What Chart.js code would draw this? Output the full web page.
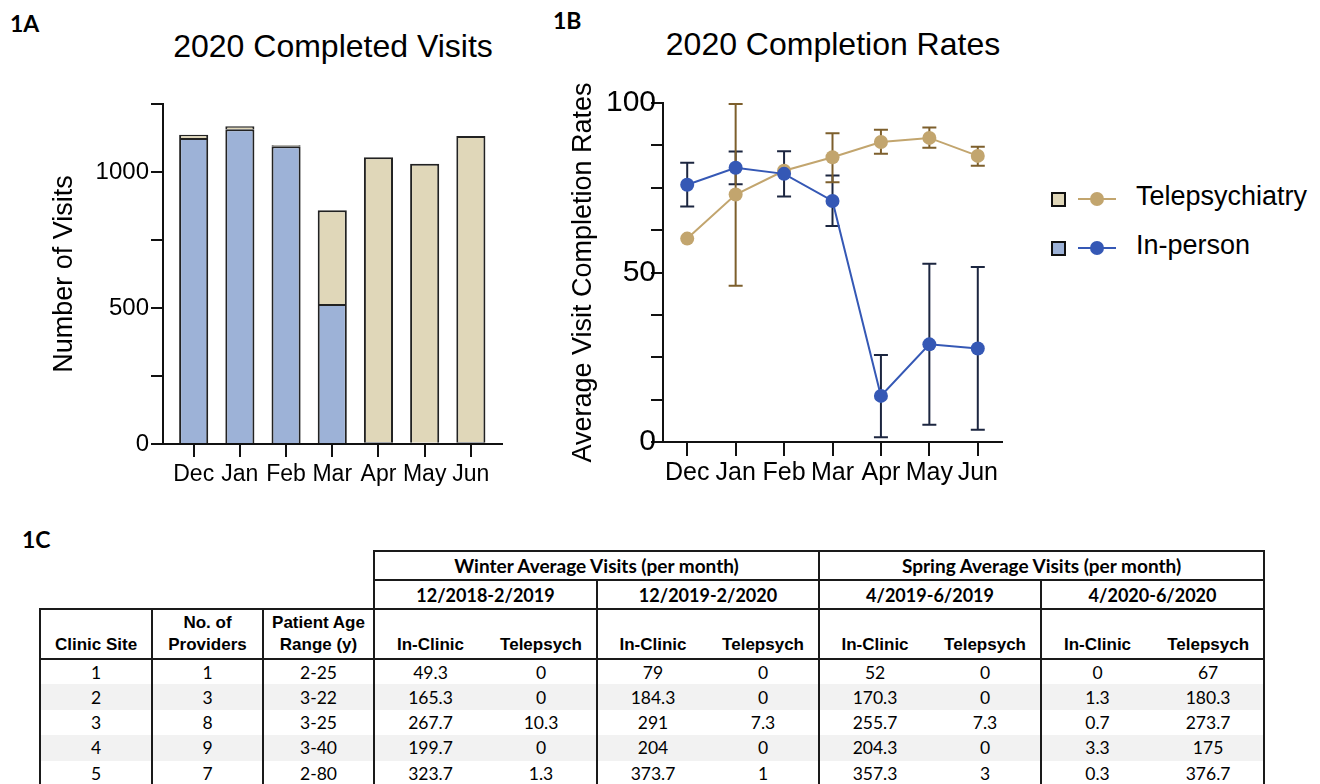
<!DOCTYPE html>
<html>
<head>
<meta charset="utf-8">
<script src="https://cdn.jsdelivr.net/npm/chart.js@4.4.1/dist/chart.umd.min.js"></script>
<style>
  body { margin: 0; background: #fff; }
  #page { position: relative; width: 1320px; height: 784px; overflow: hidden; font-family: "Liberation Sans", Arial, sans-serif; color: #000; }
  .panel { position: absolute; font-family: Lato, sans-serif; font-weight: 700; font-size: 23px; line-height: 22px; }
  .title { position: absolute; font-size: 32px; line-height: 32px; text-align: center; white-space: nowrap; }
  .box { position: absolute; }
  .legend-sq { position: absolute; width: 11px; height: 11px; border: 2px solid #111; }
  .legend-ln { position: absolute; height: 2px; }
  .legend-dot { position: absolute; width: 14px; height: 14px; border-radius: 50%; }
  .legend-tx { position: absolute; font-size: 27px; line-height: 27px; white-space: nowrap; }
  table { position: absolute; left: 39px; top: 550px; border-collapse: collapse; table-layout: fixed; width: 1226px; }
  td { padding: 0; text-align: center; color: #000; }
  .grp { font-family: Lato, sans-serif; font-weight: 700; font-size: 18px; border: 2px solid #1a1a1a; }
  .grp.top { font-size: 19px; }
  .hd { font-weight: 700; font-size: 17px; line-height: 22px; vertical-align: bottom; padding-bottom: 2px; border-top: 2px solid #1a1a1a; border-bottom: 2px solid #1a1a1a; }
  .num { font-family: Lato, sans-serif; font-size: 17.5px; }
  .vl { border-left: 2px solid #1a1a1a; }
  .vr { border-right: 2px solid #1a1a1a; }
  tr.shade td { background: #f2f2f2; }
</style>
</head>
<body>
<div id="page">
  <div class="panel" style="left:10px;top:12px">1A</div>
  <div class="panel" style="left:553px;top:9px">1B</div>
  <div class="panel" style="left:22px;top:528px">1C</div>

  <div class="title" style="left:133px;top:30px;width:400px">2020 Completed Visits</div>
  <div class="title" style="left:633px;top:28px;width:400px">2020 Completion Rates</div>

  <div class="box" style="left:0;top:0;width:530px;height:500px"><canvas id="visits"></canvas></div>
  <div class="box" style="left:540px;top:0;width:490px;height:500px"><canvas id="rates"></canvas></div>

  <div id="legend"></div>
  <table id="sites"></table>
</div>

<script>
const months = ["Dec", "Jan", "Feb", "Mar", "Apr", "May", "Jun"]

// 1A - completed visits per month
const inPersonVisits = [1125, 1157, 1095, 515, 6, 5, 6]
const teleVisits = [12, 11, 3, 344, 1048, 1025, 1126]

// 1B - average completion rates (%), with error bar ends
const teleRate = [60, 73, 80, 84, 88.5, 89.7, 84.4]
const teleErrLow = [null, 46.1, null, 76.6, 85, 86.8, 81.5]
const teleErrHigh = [null, 99.7, null, 91.1, 92.1, 92.8, 87.1]
const inPersonRate = [75.9, 80.9, 79.1, 71.1, 13.6, 28.8, 27.6]
const inPersonErrLow = [69.5, 76, 72.4, 63.7, 1.4, 5.1, 3.6]
const inPersonErrHigh = [82.4, 85.7, 85.8, 78.6, 25.7, 52.6, 51.6]

// 1C - clinic table
const clinicSites = ["1", "2", "3", "4", "5"]
const providers = ["1", "3", "8", "9", "7"]
const ageRanges = ["2-25", "3-22", "3-25", "3-40", "2-80"]
const winter19Clinic = ["49.3", "165.3", "267.7", "199.7", "323.7"]
const winter19Tele = ["0", "0", "10.3", "0", "1.3"]
const winter20Clinic = ["79", "184.3", "291", "204", "373.7"]
const winter20Tele = ["0", "0", "7.3", "0", "1"]
const spring19Clinic = ["52", "170.3", "255.7", "204.3", "357.3"]
const spring19Tele = ["0", "0", "7.3", "0", "3"]
const spring20Clinic = ["0", "1.3", "0.7", "3.3", "0.3"]
const spring20Tele = ["67", "180.3", "273.7", "175", "376.7"]

const blueBar = "#9db2d7"
const tanBar = "#e0d7b9"
const blueLine = "#3558b5"
const tanLine = "#c2a56e"
const blueErr = "#1c2640"
const tanErr = "#7d5f2c"

Chart.defaults.font.family = "'Liberation Sans', Arial, sans-serif"
Chart.defaults.color = "#000"
Chart.defaults.animation = false

const axisTicks = { drawOnChartArea: false, drawTicks: true, color: "#111", lineWidth: 2, offset: false }
const axisBorder = { color: "#111", width: 2 }

new Chart(document.getElementById("visits"), {
  type: "bar",
  data: {
    datasets: [
      {
        label: "In-person",
        data: inPersonVisits.map((v, i) => ({ x: i, y: v })),
        backgroundColor: blueBar,
        borderColor: "#222",
        borderWidth: 2,
        barPercentage: 0.63,
        categoryPercentage: 1
      },
      {
        label: "Telepsychiatry",
        data: teleVisits.map((v, i) => ({ x: i, y: v })),
        backgroundColor: tanBar,
        borderColor: "#222",
        borderWidth: 2,
        barPercentage: 0.63,
        categoryPercentage: 1
      }
    ]
  },
  options: {
    responsive: true,
    maintainAspectRatio: false,
    layout: { padding: { left: 44, right: 28, top: 104, bottom: 6 } },
    scales: {
      x: {
        type: "linear",
        offset: false,
        stacked: true,
        min: -0.664,
        max: 6.674,
        afterBuildTicks: s => { s.ticks = months.map((m, i) => ({ value: i })) },
        afterFit: s => { s.height = 50 },
        ticks: { callback: v => months[v], font: { size: 23 }, padding: 4, autoSkip: false, maxRotation: 0, minRotation: 0 },
        grid: { ...axisTicks, tickLength: 13 },
        border: axisBorder
      },
      y: {
        stacked: true,
        min: 0,
        max: 1250,
        afterFit: s => { s.width = 119 },
        ticks: { stepSize: 250, callback: v => (v % 500 === 0 ? v : ""), font: { size: 24 }, padding: 2 },
        grid: { ...axisTicks, tickLength: 12 },
        border: axisBorder,
        title: { display: true, text: "Number of Visits", font: { size: 27 } }
      }
    },
    plugins: { legend: { display: false }, tooltip: { enabled: false } }
  }
})

const errorBars = {
  id: "errorBars",
  beforeDatasetsDraw(chart) {
    const ctx = chart.ctx
    const y = chart.scales.y
    chart.data.datasets.forEach((ds, i) => {
      const meta = chart.getDatasetMeta(i)
      ctx.save()
      ctx.strokeStyle = ds.errColor
      ctx.lineWidth = 2
      meta.data.forEach((pt, j) => {
        if (ds.errLow[j] == null) return
        const top = y.getPixelForValue(ds.errHigh[j])
        const bot = y.getPixelForValue(ds.errLow[j])
        ctx.beginPath()
        ctx.moveTo(pt.x, top)
        ctx.lineTo(pt.x, bot)
        ctx.moveTo(pt.x - 7, top)
        ctx.lineTo(pt.x + 7, top)
        ctx.moveTo(pt.x - 7, bot)
        ctx.lineTo(pt.x + 7, bot)
        ctx.stroke()
      })
      ctx.restore()
    })
  }
}

new Chart(document.getElementById("rates"), {
  type: "line",
  plugins: [errorBars],
  data: {
    labels: months,
    datasets: [
      {
        label: "In-person",
        data: inPersonRate,
        errLow: inPersonErrLow,
        errHigh: inPersonErrHigh,
        errColor: blueErr,
        borderColor: blueLine,
        backgroundColor: blueLine,
        borderWidth: 2,
        pointRadius: 7,
        pointBorderWidth: 0
      },
      {
        label: "Telepsychiatry",
        data: teleRate,
        errLow: teleErrLow,
        errHigh: teleErrHigh,
        errColor: tanErr,
        borderColor: tanLine,
        backgroundColor: tanLine,
        borderWidth: 2,
        pointRadius: 7,
        pointBorderWidth: 0
      }
    ]
  },
  options: {
    responsive: true,
    maintainAspectRatio: false,
    layout: { padding: { left: 23, right: 28, top: 103, bottom: 8 } },
    scales: {
      x: {
        offset: true,
        afterFit: s => { s.height = 50 },
        ticks: { font: { size: 25 }, padding: 2, autoSkip: false, maxRotation: 0, minRotation: 0 },
        grid: { ...axisTicks, tickLength: 14 },
        border: axisBorder
      },
      y: {
        min: 0,
        max: 100,
        afterFit: s => { s.width = 100 },
        ticks: { stepSize: 12.5, callback: v => (v % 50 === 0 ? v : ""), font: { size: 30 }, padding: -5 },
        grid: { ...axisTicks, tickLength: 12 },
        border: axisBorder,
        title: { display: true, text: "Average Visit Completion Rates", font: { size: 27 } }
      }
    },
    plugins: { legend: { display: false }, tooltip: { enabled: false } }
  }
})

// legend for both panels
const legendItems = [
  { text: "Telepsychiatry", fill: tanBar, line: tanLine, y: 199 },
  { text: "In-person", fill: blueBar, line: blueLine, y: 248 }
]
document.getElementById("legend").innerHTML = legendItems.map(it => `
  <div class="legend-sq" style="left:1051px;top:${it.y - 7}px;background:${it.fill}"></div>
  <div class="legend-ln" style="left:1078px;top:${it.y - 1}px;width:38px;background:${it.line}"></div>
  <div class="legend-dot" style="left:1090px;top:${it.y - 7}px;background:${it.line}"></div>
  <div class="legend-tx" style="left:1136px;top:${it.y - 16}px">${it.text}</div>`).join("")

// 1C table
const colWidths = [112, 111, 111, 112, 111, 111, 111, 111, 111, 112, 111]
let html = "<colgroup>" + colWidths.map(w => `<col style="width:${w}px">`).join("") + "</colgroup>"
html += `<tr style="height:29px"><td colspan="3" rowspan="2"></td>
  <td class="grp top" colspan="4">Winter Average Visits (per month)</td>
  <td class="grp top" colspan="4">Spring Average Visits (per month)</td></tr>`
html += `<tr style="height:29px">
  <td class="grp" colspan="2">12/2018-2/2019</td><td class="grp" colspan="2">12/2019-2/2020</td>
  <td class="grp" colspan="2">4/2019-6/2019</td><td class="grp" colspan="2">4/2020-6/2020</td></tr>`
const subHead = `<td class="hd vl">In-Clinic</td><td class="hd">Telepsych</td>`
html += `<tr style="height:50px">
  <td class="hd vl">Clinic Site</td><td class="hd vl">No. of<br>Providers</td><td class="hd vl">Patient Age<br>Range (y)</td>
  ${subHead}${subHead}${subHead}${subHead.replace('class="hd">Telepsych', 'class="hd vr">Telepsych')}</tr>`
clinicSites.forEach((site, i) => {
  const pair = (a, b, last) => `<td class="num vl">${a[i]}</td><td class="num${last ? " vr" : ""}">${b[i]}</td>`
  html += `<tr style="height:25.4px"${i % 2 === 1 ? ' class="shade"' : ""}>
    <td class="num vl">${site}</td><td class="num vl">${providers[i]}</td><td class="num vl">${ageRanges[i]}</td>
    ${pair(winter19Clinic, winter19Tele)}${pair(winter20Clinic, winter20Tele)}
    ${pair(spring19Clinic, spring19Tele)}${pair(spring20Clinic, spring20Tele, true)}</tr>`
})
document.getElementById("sites").innerHTML = html
</script>
</body>
</html>
